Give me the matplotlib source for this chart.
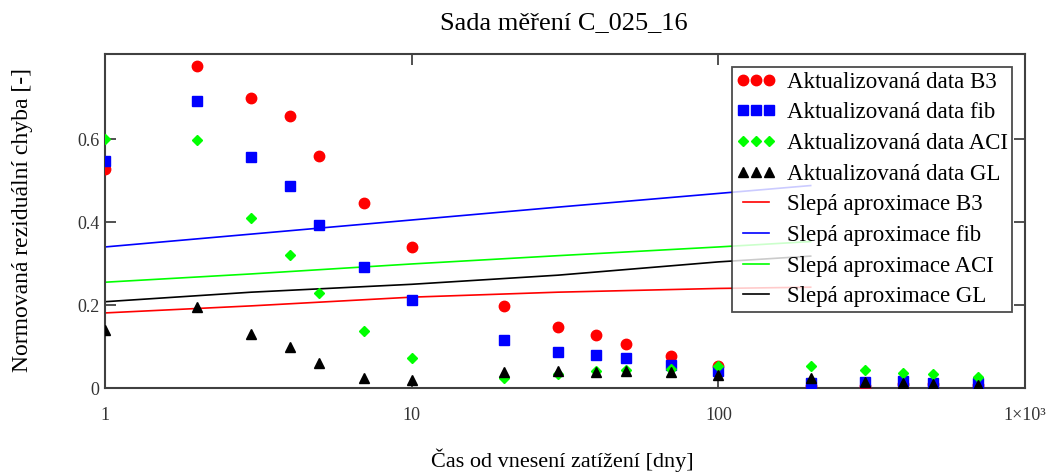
import matplotlib
matplotlib.use("Agg")
import matplotlib.pyplot as plt
from matplotlib.ticker import FixedLocator, FixedFormatter, NullLocator

plt.rcParams['font.family'] = ['Liberation Serif', 'DejaVu Serif']

# time since loading [days]
t = [1, 2, 3, 4, 5, 7, 10, 20, 30, 40, 50, 70, 100, 200, 300, 400, 500, 700]

# updated data - normalized residual error
b3 = [0.527, 0.776, 0.698, 0.655, 0.560, 0.446, 0.340, 0.198, 0.146, 0.128,
      0.106, 0.077, 0.053, 0.005, 0.005, 0.010, 0.010, 0.008]
fib = [0.548, 0.692, 0.556, 0.486, 0.394, 0.291, 0.211, 0.116, 0.086, 0.080,
       0.073, 0.055, 0.040, 0.012, 0.014, 0.018, 0.013, 0.011]
aci = [0.600, 0.597, 0.409, 0.320, 0.230, 0.138, 0.073, 0.023, 0.033, 0.040,
       0.043, 0.047, 0.053, 0.053, 0.043, 0.037, 0.034, 0.026]
gl = [0.140, 0.196, 0.130, 0.098, 0.061, 0.023, 0.019, 0.038, 0.041, 0.038,
      0.040, 0.038, 0.031, 0.023, 0.015, 0.012, 0.010, 0.008]

# blind approximation curves
t_line = [1, 3, 10, 30, 100, 200]
b3_line = [0.181, 0.198, 0.219, 0.231, 0.240, 0.243]
fib_line = [0.340, 0.371, 0.405, 0.436, 0.469, 0.488]
aci_line = [0.255, 0.275, 0.299, 0.319, 0.340, 0.353]
gl_line = [0.208, 0.231, 0.250, 0.272, 0.304, 0.318]

fig = plt.figure(figsize=(10.51, 4.74), dpi=100)
ax = fig.add_axes([0.0999, 0.1814, 0.8754, 0.7046])

ax.plot(t_line, b3_line, color='#ff0000', lw=1.2, label='Slepá aproximace B3', zorder=2)
ax.plot(t_line, fib_line, color='#0000ff', lw=1.2, label='Slepá aproximace fib', zorder=2)
ax.plot(t_line, aci_line, color='#00ff00', lw=1.2, label='Slepá aproximace ACI', zorder=2)
ax.plot(t_line, gl_line, color='#000000', lw=1.2, label='Slepá aproximace GL', zorder=2)

ax.plot(t, b3, 'o', color='#ff0000', ms=7.5, ls='none', label='Aktualizovaná data B3', zorder=3)
ax.plot(t, fib, 's', color='#0000ff', ms=7, ls='none', label='Aktualizovaná data fib', zorder=3)
ax.plot(t, aci, 'D', color='#00ff00', ms=5, ls='none', label='Aktualizovaná data ACI', zorder=3)
ax.plot(t, gl, '^', color='#000000', ms=7, ls='none', label='Aktualizovaná data GL', zorder=3)

ax.set_xscale('log')
ax.set_xlim(1, 1000)
ax.set_ylim(0, 0.805)

ax.xaxis.set_major_locator(FixedLocator([1, 10, 100, 1000]))
ax.xaxis.set_major_formatter(FixedFormatter(['1', '10', '100', '1×10³']))
ax.xaxis.set_minor_locator(NullLocator())
ax.set_yticks([0, 0.2, 0.4, 0.6])
ax.set_yticklabels(['0', '0.2', '0.4', '0.6'])
ax.tick_params(direction='in', length=8, width=1.2, top=True, right=True,
               labelsize=13, colors='#333333', pad=14)
ax.tick_params(axis='y', pad=4)
for s in ax.spines.values():
    s.set_color('#404040')
    s.set_linewidth(1.5)

fig.text(0.5367, 0.951, 'Sada měření C_025_16', fontsize=19, ha='center', va='center')
fig.text(0.535, 0.03, 'Čas od vnesení zatížení [dny]', fontsize=16, ha='center', va='center')
fig.text(0.021, 0.536, 'Normovaná reziduální chyba [-]', fontsize=17, ha='center',
         va='center', rotation=90)

handles, labels = ax.get_legend_handles_labels()
order = [4, 5, 6, 7, 0, 1, 2, 3]
leg = ax.legend([handles[i] for i in order], [labels[i] for i in order],
                loc='upper right', bbox_to_anchor=(0.986, 0.961), borderaxespad=0,
                numpoints=3, fontsize=16.5, frameon=True, fancybox=False,
                handlelength=1.75, handletextpad=0.45, labelspacing=0.42,
                borderpad=0.2)
leg.get_frame().set_edgecolor('#202020')
leg.get_frame().set_linewidth(1.3)

fig.savefig('out.png', dpi=100)
